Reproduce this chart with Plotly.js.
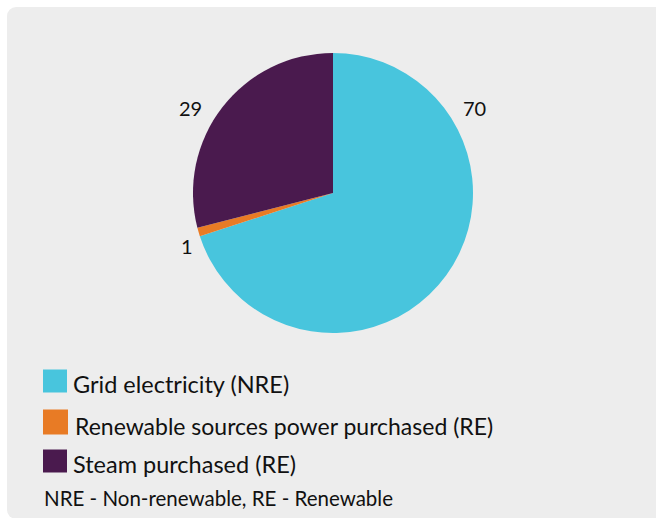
<!DOCTYPE html>
<html>
<head>
<meta charset="utf-8">
<script src="https://cdn.plot.ly/plotly-3.0.1.min.js"></script>
<style>
  html, body { margin: 0; padding: 0; background: #ffffff; }
  #panel { position: absolute; left: 7px; top: 7px; width: 660px; height: 512px;
           background: #ededed; border-radius: 9px; }
  #chart { position: absolute; left: 0; top: 0; width: 656px; height: 518px; }
</style>
</head>
<body>
<div id="panel"></div>
<div id="chart"></div>
<script>
// ---- data ----
var categories = ["Grid electricity (NRE)", "Renewable sources power purchased (RE)", "Steam purchased (RE)"];
var values = [70, 1, 29];
var colors = ["#48C5DD", "#E87B25", "#4A1A4E"];
var footnote = "NRE - Non-renewable, RE - Renewable";

// ---- layout helpers ----
var W = 656, H = 518;
function px(x) { return x / W; }
function py(y) { return 1 - y / H; }

var cx = 333, cy = 193, r = 140;

var trace = {
  type: "pie",
  labels: categories,
  values: values,
  marker: { colors: colors, line: { width: 0 } },
  sort: false,
  direction: "clockwise",
  rotation: 0,
  textinfo: "none",
  hoverinfo: "label+value",
  showlegend: false,
  domain: { x: [px(cx - r), px(cx + r)], y: [py(cy + r), py(cy - r)] }
};

// data label placement (pixel positions of the value labels)
var labelPos = [[474, 108], [187, 246], [190, 108]];

var annotations = [];
var shapes = [];
values.forEach(function (v, i) {
  annotations.push({
    xref: "paper", yref: "paper",
    x: px(labelPos[i][0]), y: py(labelPos[i][1]),
    xanchor: "center", yanchor: "middle",
    text: String(v), showarrow: false,
    font: { family: "Lato", size: 20, color: "#111111" }
  });
});

// custom legend
var legY = [381, 422, 461];
var textY = [384, 426, 464];
var textX = [71, 73, 71];
var legSize = [23.5, 23, 23.5];
categories.forEach(function (c, i) {
  shapes.push({
    type: "rect", xref: "paper", yref: "paper",
    x0: px(43), x1: px(i === 1 ? 68 : 67),
    y0: py(legY[i] - (i === 1 ? 12.5 : 11.5)), y1: py(legY[i] + (i === 1 ? 12.5 : 11.5)),
    fillcolor: colors[i], line: { width: 0 }
  });
  annotations.push({
    xref: "paper", yref: "paper",
    x: px(textX[i]), y: py(textY[i]),
    xanchor: "left", yanchor: "middle",
    text: c, showarrow: false,
    font: { family: "Lato", size: legSize[i], color: "#111111" }
  });
});

annotations.push({
  xref: "paper", yref: "paper",
  x: px(42), y: py(498),
  xanchor: "left", yanchor: "middle",
  text: footnote, showarrow: false,
  font: { family: "Lato", size: 20.5, color: "#111111" }
});

var layout = {
  width: W, height: H,
  margin: { l: 0, r: 0, t: 0, b: 0 },
  paper_bgcolor: "rgba(0,0,0,0)",
  plot_bgcolor: "rgba(0,0,0,0)",
  showlegend: false,
  annotations: annotations,
  shapes: shapes
};

Plotly.newPlot("chart", [trace], layout, { displayModeBar: false, staticPlot: true });
</script>
</body>
</html>
